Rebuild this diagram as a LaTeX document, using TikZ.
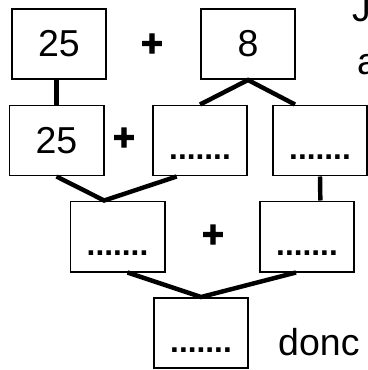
\documentclass[tikz,border=0pt]{standalone}
\usepackage{fontspec}
\setmainfont{Liberation Sans}
\newfontfamily\grasplus[FakeBold=3]{Liberation Sans Bold}

\begin{document}
\begin{tikzpicture}[x=0.03cm, y=-0.03cm,
	case/.style={draw, line width=1.7pt, minimum width=2.82cm, minimum height=2.1cm, inner sep=0pt, font=\fontsize{32}{38}\selectfont},
	vide/.style={case, label={[pointilles]south:.......}},
	pointilles/.style={anchor=base, yshift=0.5cm, inner sep=0pt, font=\fontsize{27}{30}\selectfont\bfseries},
	lien/.style={line width=3.8pt},
	plus/.style={inner sep=0pt, font=\grasplus\fontsize{32}{40}\selectfont},
	mot/.style={inner sep=0pt, anchor=base west, font=\fontsize{32}{38}\selectfont}]
	\useasboundingbox (0,0) rectangle (367,370);

	% premiere ligne
	\node[case] (a25) at (59,44) {25};
	\node[plus] (plusA) at (152,45) {+};
	\node[case] (b8) at (248,44) {8};

	% deuxieme ligne
	\node[case] (c25) at (56.5,140.5) {25};
	\node[plus] (plusB) at (124,139) {+};
	\node[vide] (d) at (200,140.5) {};
	\node[vide] (e) at (320,140.5) {};

	% troisieme ligne
	\node[vide] (f) at (117.5,236.5) {};
	\node[plus] (plusC) at (213,236) {+};
	\node[vide] (g) at (307,236.5) {};

	% resultat
	\node[vide] (h) at (201,333) {};

	\node[mot] (motJ) at (352,22) {J};
	\node[mot] (motA) at (357,75) {a};
	\node[mot] (donc) at (278,355) {donc};

	\draw[lien] (c25.north) -- (c25.north |- a25.south);
	\draw[lien] ([xshift=-0.75cm]e.north) -- (b8.south) -- (d.north);
	\draw[lien] (c25.south) -- ([xshift=-0.4cm]f.north) -- ([xshift=-0.7cm]d.south);
	\draw[lien] (e.south) -- ([xshift=0.4cm]g.north);
	\draw[lien] ([xshift=0.3cm]f.south) -- (h.north) -- ([xshift=-0.33cm]g.south);
\end{tikzpicture}
\end{document}
